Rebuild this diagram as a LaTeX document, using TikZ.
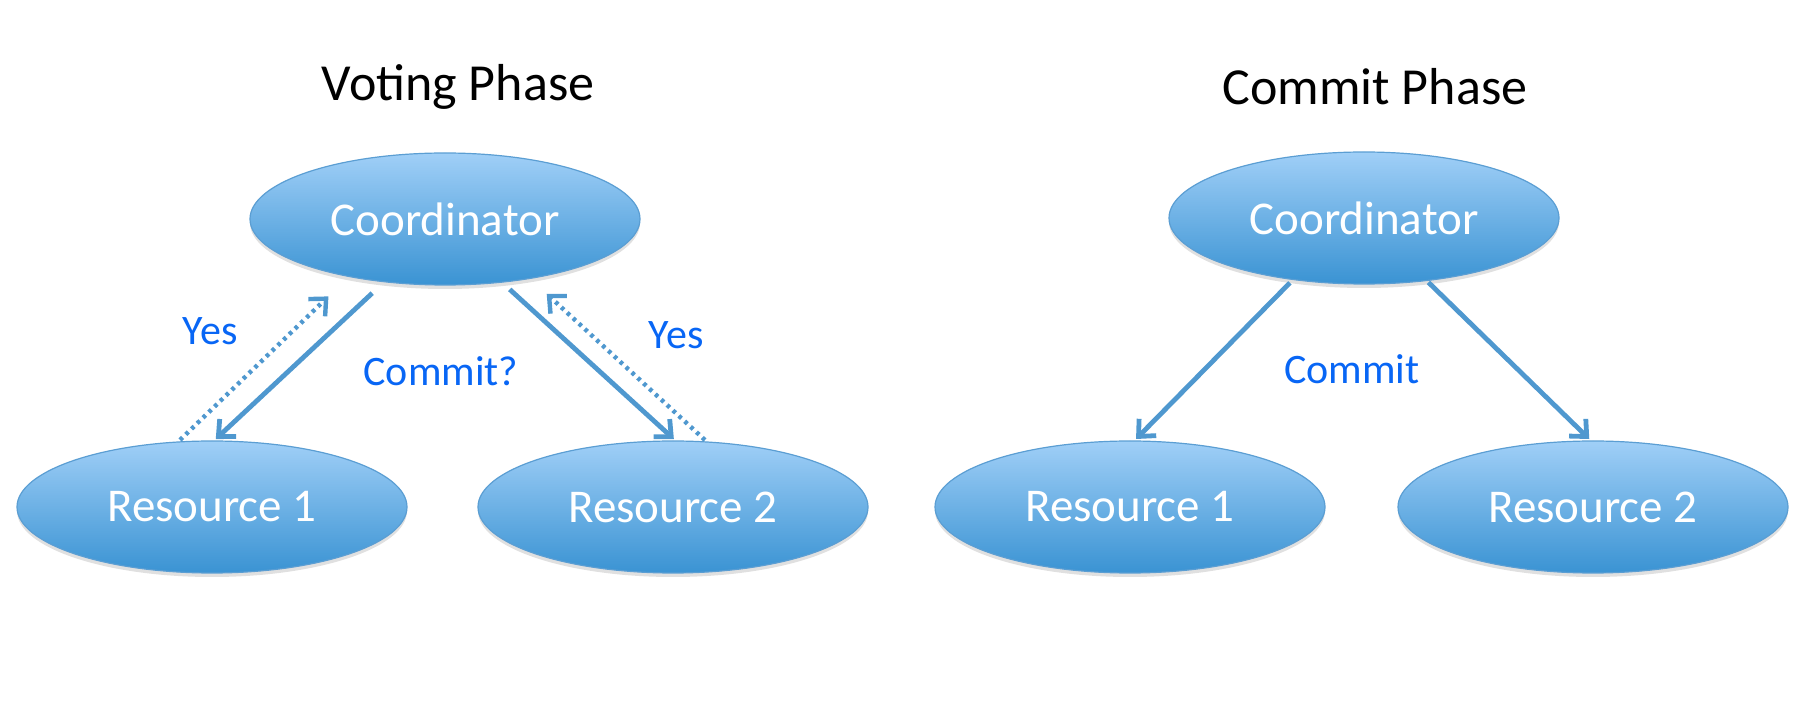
\documentclass[tikz,border=0pt]{standalone}
\usepackage{fontspec}
\setmainfont{Carlito}
\usepackage{tikz}
\usetikzlibrary{arrows.meta,shapes.geometric,shadows}
\definecolor{nodetop}{HTML}{A0CFF7}
\definecolor{nodebot}{HTML}{3A93D3}
\definecolor{nodeline}{HTML}{5B9ED3}
\definecolor{arrowblue}{HTML}{4F98CF}
\definecolor{labelblue}{HTML}{0866F5}

\begin{document}
\begin{tikzpicture}[x=0.5pt,y=-0.5pt,->,>={Straight Barb[length=6.5pt,width=12pt]},
  main node/.style={ellipse,draw=nodeline,line width=0.6pt,top color=nodetop,bottom color=nodebot,
    minimum width=195pt,minimum height=66pt,inner sep=0pt,text=white,font=\fontsize{23.5}{26}\selectfont,
    drop shadow={shadow xshift=0pt,shadow yshift=-2pt,opacity=0.2,fill=black!60}},
  title node/.style={font=\fontsize{26}{30}\selectfont},
  label node/.style={text=labelblue,font=\fontsize{21}{24}\selectfont},
  msg/.style={draw=arrowblue,line width=2.4pt},
  vote/.style={draw=arrowblue,line width=2.2pt,dash pattern=on 1.8pt off 2.2pt}]

  \useasboundingbox (0,0) rectangle (1820,710);

  % voting phase
  \node[title node] (voting) at (458,87) {Voting Phase};
  \node[main node] (coordL) at (445,219) {Coordinator};
  \node[main node] (resL1) at (212,507) {Resource 1};
  \node[main node] (resL2) at (673,507) {Resource 2};

  \node[label node] (yesL1) at (210,331) {Yes};
  \node[label node] (commitQ) at (441,371) {Commit?};
  \node[label node] (yesL2) at (676,335) {Yes};

  \path
    (coordL.226) edge [msg,shorten <=8pt,shorten >=1pt] (resL1.88)
    (coordL.312) edge [msg,shorten <=5pt,shorten >=1pt] (resL2.88)
    (resL1.117) edge [vote,shorten <=1pt,shorten >=14pt] (coordL.211)
    (resL2.63) edge [vote,shorten <=1pt,shorten >=11pt] (coordL.325);

  % commit phase
  \node[title node] (commit) at (1375,87) {Commit Phase};
  \node[main node] (coordR) at (1364,218) {Coordinator};
  \node[main node] (resR1) at (1130,507) {Resource 1};
  \node[main node] (resR2) at (1593,507) {Resource 2};

  \node[label node] (commitL) at (1352,369) {Commit};

  \path
    (coordR.221) edge [msg,shorten <=2pt,shorten >=1pt] (resR1.86)
    (coordR.315) edge [msg,shorten <=1pt,shorten >=1pt] (resR2.92);
\end{tikzpicture}
\end{document}
